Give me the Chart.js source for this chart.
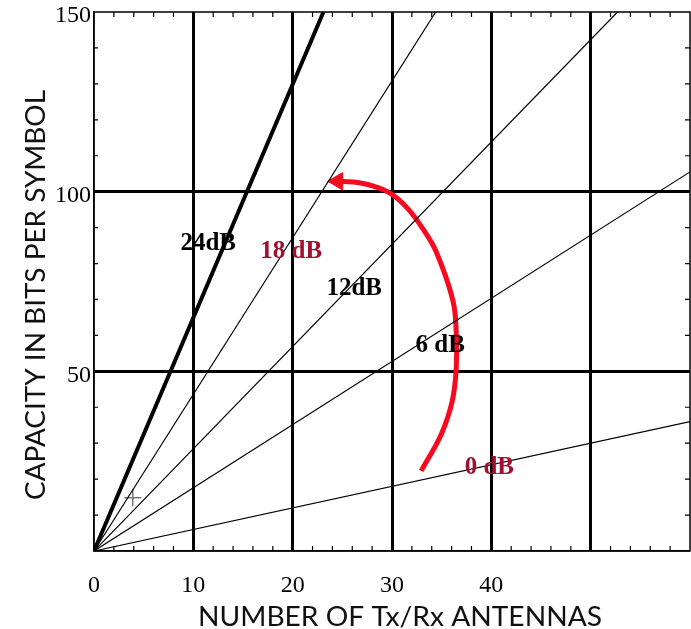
<!DOCTYPE html>
<html>
<head>
<meta charset="utf-8">
<script src="https://cdn.jsdelivr.net/npm/chart.js@4.4.1/dist/chart.umd.min.js"></script>
<style>
  html, body { margin: 0; padding: 0; background: #fff; }
</style>
</head>
<body>
<canvas id="capacityChart" width="691" height="629"></canvas>
<script>
// values
const snrLabels = ['0 dB', '6 dB', '12dB', '18 dB', '24dB'];
const antennasEnd = [60, 60, 52.7, 34.4, 23.1];      // where each line leaves the plot
const capacityEnd = [36, 105.5, 150, 150, 150];
const labelX = [39.8, 34.85, 26.2, 19.85, 11.5];
const labelY = [23.2, 57.1, 72.9, 83.4, 85.5];
const arrowX = [32.94, 34.96, 36.07, 36.47, 36.47, 36.13, 34.46, 33.1, 31.59, 29.92, 28.06, 26.05, 24.53];
const arrowY = [22.3, 32.5, 41.8, 51.1, 60.5, 69.7, 83.2, 89.7, 95.3, 99.4, 101.6, 102.7, 102.9];
const markX = [3.9];
const markY = [14.8];
const xTickLabels = [0, 10, 20, 30, 40];
const yTickLabels = [50, 100, 150];

const labelColors = ['#a3102f', '#000', '#000', '#a3102f', '#000'];
const lineWidths = [1.2, 1.2, 1.2, 1.2, 4];
const serif = '"Liberation Serif", "Times New Roman", serif';

const datasets = snrLabels.map((name, i) => ({
  label: name,
  data: [{ x: 0, y: 0 }, { x: antennasEnd[i], y: capacityEnd[i] }],
  showLine: true,
  borderColor: '#000',
  borderWidth: lineWidths[i],
  pointRadius: 0
}));

// red curved arrow
datasets.push({
  label: 'arrow',
  data: arrowX.map((x, i) => ({ x, y: arrowY[i] })),
  showLine: true,
  tension: 0.4,
  borderColor: '#f50a1f',
  borderWidth: 5,
  pointStyle: 'triangle',
  rotation: -90,
  pointRadius: arrowX.map((_, i) => i === arrowX.length - 1 ? 10 : 0),
  pointBackgroundColor: '#f50a1f',
  pointBorderColor: '#f50a1f',
  pointBorderWidth: 1
});

// small + marker
datasets.push({
  label: 'mark',
  data: markX.map((x, i) => ({ x, y: markY[i] })),
  pointStyle: 'cross',
  pointRadius: 8.5,
  pointBorderColor: '#777',
  pointBorderWidth: 1.5
});

// frame, inward minor ticks, curve labels, axis titles
const decorations = {
  id: 'decorations',
  afterDraw(chart) {
    const { ctx, chartArea: a, scales: { x, y } } = chart;
    ctx.save();
    ctx.strokeStyle = '#000';
    ctx.lineWidth = 1.5;
    ctx.strokeRect(a.left, a.top, a.right - a.left, a.bottom - a.top);

    ctx.lineWidth = 1.2;
    ctx.beginPath();
    for (let v = 2; v < 60; v += 2) {
      if (v % 10 === 0) continue;
      const px = x.getPixelForValue(v);
      ctx.moveTo(px, a.top); ctx.lineTo(px, a.top + 5);
      ctx.moveTo(px, a.bottom); ctx.lineTo(px, a.bottom - 5);
    }
    for (let v = 10; v < 150; v += 10) {
      if (v % 50 === 0) continue;
      const py = y.getPixelForValue(v);
      ctx.moveTo(a.left, py); ctx.lineTo(a.left + 4, py);
      ctx.moveTo(a.right, py); ctx.lineTo(a.right - 5, py);
    }
    ctx.stroke();

    ctx.font = 'bold 25px ' + serif;
    ctx.textAlign = 'center';
    ctx.textBaseline = 'middle';
    snrLabels.forEach((t, i) => {
      ctx.fillStyle = labelColors[i];
      ctx.fillText(t, x.getPixelForValue(labelX[i]), y.getPixelForValue(labelY[i]));
    });

    ctx.fillStyle = '#111';
    ctx.font = '26px Lato, "Liberation Sans", sans-serif';
    ctx.textBaseline = 'alphabetic';
    const xt = 'NUMBER OF Tx/Rx ANTENNAS';
    ctx.save();
    ctx.translate(400, 626);
    ctx.scale(404 / ctx.measureText(xt).width, 1);
    ctx.fillText(xt, 0, 0);
    ctx.restore();

    const yt = 'CAPACITY IN BITS PER SYMBOL';
    ctx.save();
    ctx.translate(45, 295);
    ctx.rotate(-Math.PI / 2);
    ctx.scale(410 / ctx.measureText(yt).width, 1);
    ctx.fillText(yt, 0, 0);
    ctx.restore();
    ctx.restore();
  }
};

new Chart(document.getElementById('capacityChart'), {
  type: 'scatter',
  data: { datasets },
  options: {
    responsive: false,
    animation: false,
    layout: { autoPadding: false, padding: { top: 12, right: 1, left: 0, bottom: 0 } },
    plugins: { legend: { display: false }, tooltip: { enabled: false } },
    scales: {
      x: {
        min: 0, max: 60,
        afterFit: s => { s.height = 78; s.paddingLeft = 0; s.paddingRight = 0; },
        ticks: {
          stepSize: 2, autoSkip: false, maxRotation: 0, padding: 20,
          color: '#000', font: { family: serif, size: 24 },
          callback: v => xTickLabels.includes(v) ? v : ''
        },
        grid: {
          color: '#000', drawTicks: false,
          lineWidth: c => (c.tick && c.tick.value % 10 === 0 && c.tick.value > 0 && c.tick.value < 60) ? 3 : 0
        },
        border: { display: true, color: '#000', width: 1.5 }
      },
      y: {
        min: 0, max: 150,
        afterFit: s => { s.width = 94; s.paddingTop = 0; s.paddingBottom = 0; },
        ticks: {
          stepSize: 10, autoSkip: false, padding: 3, labelOffset: 4,
          color: '#000', font: { family: serif, size: 24 },
          callback: v => yTickLabels.includes(v) ? v : ''
        },
        grid: {
          color: '#000', drawTicks: false,
          lineWidth: c => (c.tick && (c.tick.value === 50 || c.tick.value === 100)) ? 3 : 0
        },
        border: { display: true, color: '#000', width: 1.5 }
      }
    }
  },
  plugins: [decorations]
});
</script>
</body>
</html>
